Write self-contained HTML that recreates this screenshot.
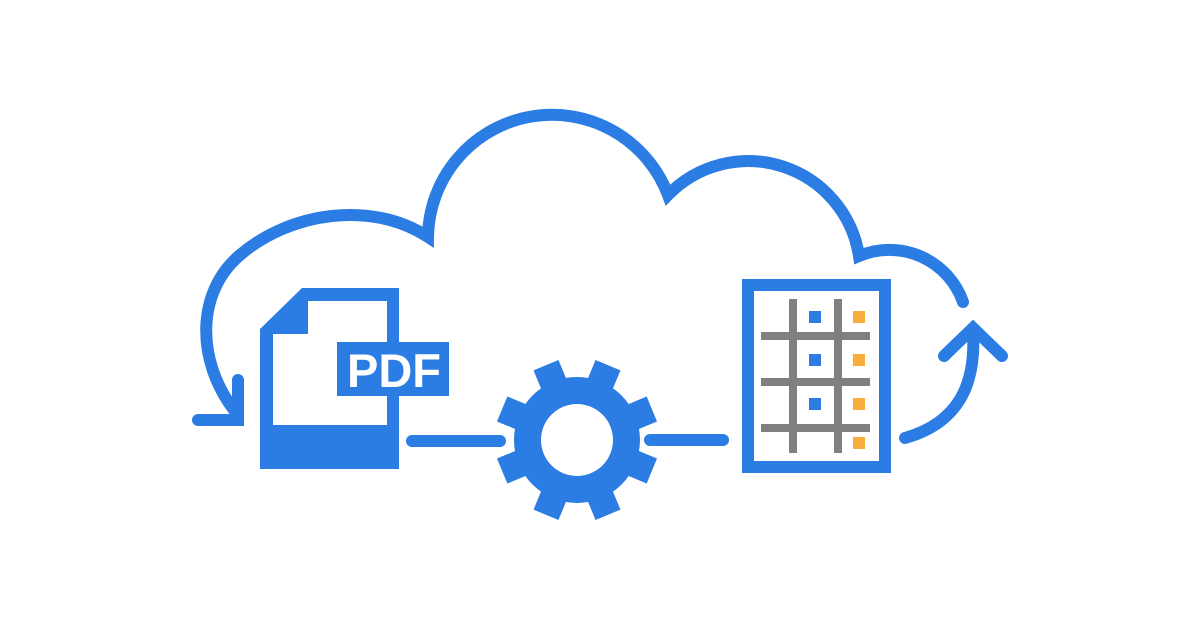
<!DOCTYPE html>
<html><head><style>html,body{margin:0;padding:0;background:#fff;}svg{display:block}</style></head>
<body>
<svg width="1200" height="628" viewBox="0 0 1200 628" xmlns="http://www.w3.org/2000/svg">
<g fill="none" stroke="#2b7de3" stroke-width="12" stroke-linecap="round" stroke-linejoin="miter">
<path d="M234,410 C196,360 196,292 240,255 C290,212 372,200 428,237 A124 124 0 0 1 668 195 A112 112 0 0 1 859 256 A78 78 0 0 1 963 302"/>
<path d="M198,420 L238,420 L238,380"/>
<path d="M905,438 C958,423 976,385 973,333"/>
<path d="M944,356 L973,328 L1002,356"/>
<path d="M412,441 L500,441"/>
<path d="M650,440 L723,440"/>
</g>
<path fill="#2b7de3" fill-rule="evenodd" d="M302,288 L399,288 L399,469 L260,469 L260,329 Z M308,301 L387,301 L387,425 L273,425 L273,334 L308,334 Z"/>
<rect x="337" y="342" width="112" height="54" fill="#2b7de3"/>
<text x="347" y="387" textLength="94" lengthAdjust="spacingAndGlyphs" font-family="Liberation Sans, sans-serif" font-weight="bold" font-size="47" fill="#fff">PDF</text>
<g transform="translate(577,440)" fill="#2b7de3">
<circle r="63"/>
<g id="t"><rect x="-13.5" y="-81" width="27" height="30" transform="rotate(22.5)"/></g>
<use href="#t" transform="rotate(45)"/><use href="#t" transform="rotate(90)"/><use href="#t" transform="rotate(135)"/>
<use href="#t" transform="rotate(180)"/><use href="#t" transform="rotate(225)"/><use href="#t" transform="rotate(270)"/><use href="#t" transform="rotate(315)"/>
<circle r="36" fill="#fff"/>
</g>
<rect x="748" y="285" width="137" height="182" fill="#fff" stroke="#2b7de3" stroke-width="12"/>
<g fill="#808080">
<rect x="789" y="299" width="8" height="154"/><rect x="834" y="299" width="8" height="154"/>
<rect x="761" y="332" width="109" height="8"/><rect x="761" y="378" width="109" height="8"/><rect x="761" y="424" width="109" height="8"/>
</g>
<g fill="#2b7de3"><rect x="809" y="311" width="12" height="12"/><rect x="809" y="354" width="12" height="12"/><rect x="809" y="398" width="12" height="12"/></g>
<g fill="#f9ae3b"><rect x="853" y="311" width="12" height="12"/><rect x="853" y="354" width="12" height="12"/><rect x="853" y="398" width="12" height="12"/><rect x="853" y="437" width="12" height="12"/></g>
</svg>
</body></html>
